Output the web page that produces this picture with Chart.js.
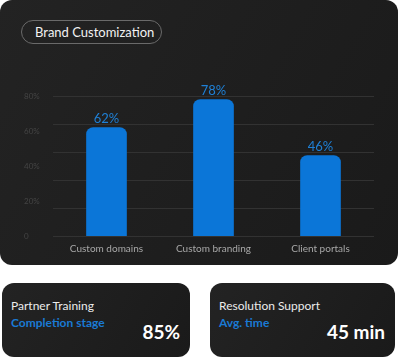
<!DOCTYPE html>
<html>
<head>
<meta charset="utf-8">
<script src="https://cdn.jsdelivr.net/npm/chart.js@4"></script>
<style>
  body{margin:0;background:#fff;width:400px;height:358px;position:relative;overflow:hidden;font-family:Lato,sans-serif}
  .card{position:absolute;background:linear-gradient(120deg,#232323,#1a1a1a);border-radius:12px}
  .main{left:0;top:0;width:398px;height:265px}
  .pill{position:absolute;left:21px;top:20px;height:22px;border:1px solid #6a6a6a;border-radius:12px;color:#f2f2f2;font-size:13px;line-height:22px;padding-left:13px;box-sizing:content-box;width:126px}
  #chart{position:absolute;left:0;top:0}
  .small{top:283px;height:74px}
  .lbl{position:absolute;left:9px;top:15px;color:#ececec;font-size:12px}
  .sub{position:absolute;left:9px;top:32px;color:#1a7ad4;font-size:12px;font-weight:bold}
  .big{position:absolute;right:10px;top:37px;color:#fff;font-size:19px;font-weight:bold}
</style>
</head>
<body>
<div class="card main">
  <div class="pill">Brand Customization</div>
</div>
<canvas id="chart" width="400" height="265"></canvas>
<div class="card small" style="left:2px;width:188px">
  <div class="lbl">Partner Training</div>
  <div class="sub">Completion stage</div>
  <div class="big">85%</div>
</div>
<div class="card small" style="left:210px;width:185px">
  <div class="lbl">Resolution Support</div>
  <div class="sub">Avg. time</div>
  <div class="big">45 min</div>
</div>
<script>
const categories=['Custom domains','Custom branding','Client portals']
const values=[62,78,46]
const yTicks=[0,20,40,60,80]

const valueLabels={
  id:'valueLabels',
  afterDatasetsDraw(chart){
    const ctx=chart.ctx
    const meta=chart.getDatasetMeta(0)
    ctx.save()
    ctx.font='13px Lato'
    ctx.fillStyle='#1f80d6'
    ctx.textAlign='center'
    ctx.textBaseline='bottom'
    meta.data.forEach((bar,i)=>{
      ctx.fillText(values[i]+'%',bar.x,bar.y-2)
    })
    ctx.restore()
  }
}

new Chart(document.getElementById('chart'),{
  type:'bar',
  data:{
    labels:categories,
    datasets:[{
      data:values,
      backgroundColor:'#0b76d8',
      barThickness:40,
      borderRadius:{topLeft:7,topRight:7},
      borderSkipped:'bottom',
      yAxisID:'y'
    }]
  },
  options:{
    responsive:false,
    animation:false,
    layout:{padding:{top:96,right:26,bottom:0,left:24}},
    plugins:{legend:{display:false},tooltip:{enabled:false}},
    scales:{
      x:{
        grid:{display:false,drawTicks:false},
        border:{display:false},
        afterFit(scale){scale.height=29},
        ticks:{color:'#a8a8a8',font:{family:'Lato',size:10},padding:7}
      },
      y:{
        min:0,max:80,
        position:'left',
        grid:{display:false},
        border:{display:false},
        afterBuildTicks(scale){scale.ticks=yTicks.map(v=>({value:v}))},
        afterFit(scale){scale.width=29},
        ticks:{
          color:'#444444',
          crossAlign:'far',
          font:{family:'Lato',size:8},
          callback:v=>v===0?'0':v+'%'
        }
      },
      yGrid:{
        min:0,max:80,
        position:'left',
        afterFit(scale){scale.width=0},
        grid:{color:'#323232',drawTicks:false,lineWidth:1},
        border:{display:false},
        ticks:{display:false,stepSize:16}
      }
    }
  },
  plugins:[valueLabels]
})
</script>
</body>
</html>
